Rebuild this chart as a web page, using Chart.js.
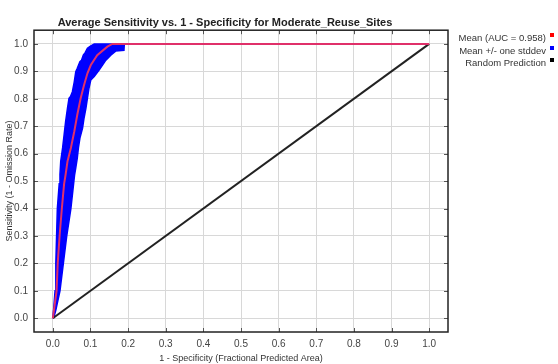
<!DOCTYPE html>
<html>
<head>
<meta charset="utf-8">
<script src="https://cdn.jsdelivr.net/npm/chart.js@4/dist/chart.umd.min.js"></script>
<style>
  html, body { margin: 0; padding: 0; background: #fff; }
  #wrap { position: relative; width: 558px; height: 364px; }
  #chart { position: absolute; left: 0; top: 0; }
  #legend { position: absolute; right: 4px; top: 32px; font: 9.5px "Liberation Sans", Arial, sans-serif; color: #333; text-align: right; }
  #legend div { height: 12.5px; line-height: 12.5px; white-space: nowrap; }
  #legend span.box { display: inline-block; width: 4px; height: 4px; margin-left: 4px; vertical-align: 4px; }
</style>
</head>
<body>
<div id="wrap">
  <canvas id="chart" width="558" height="364"></canvas>
  <div id="legend"></div>
</div>
<script>
// ROC curve values
var titleText = "Average Sensitivity vs. 1 - Specificity for Moderate_Reuse_Sites";
var xTitle = "1 - Specificity (Fractional Predicted Area)";
var yTitle = "Sensitivity (1 - Omission Rate)";
var tickValues = [0, 0.1, 0.2, 0.3, 0.4, 0.5, 0.6, 0.7, 0.8, 0.9, 1.0];
var legendLabels = ["Mean (AUC = 0.958)", "Mean +/- one stddev", "Random Prediction"];

// mean curve
var meanX = [0, 0.005, 0.010, 0.013, 0.018, 0.024, 0.030, 0.034, 0.039, 0.048, 0.057, 0.065, 0.074, 0.083, 0.092, 0.101, 0.118, 0.145, 0.158, 1.0];
var meanY = [0, 0.05, 0.10, 0.20, 0.30, 0.40, 0.49, 0.524, 0.572, 0.621, 0.681, 0.742, 0.802, 0.850, 0.893, 0.923, 0.959, 0.990, 1.0, 1.0];

// mean + one stddev (left edge of band)
var upperX = [0, 0.002, 0.006, 0.008, 0.010, 0.012, 0.017, 0.019, 0.021, 0.026, 0.030, 0.034, 0.039, 0.043, 0.047, 0.052, 0.057, 0.061, 0.065, 0.072, 0.076, 0.081, 0.086, 0.092, 0.100, 0.110];
var upperY = [0, 0.03, 0.10, 0.20, 0.30, 0.40, 0.49, 0.524, 0.572, 0.621, 0.669, 0.717, 0.766, 0.802, 0.808, 0.826, 0.862, 0.899, 0.911, 0.935, 0.940, 0.959, 0.968, 0.984, 0.992, 1.0];

// mean - one stddev (right edge of band)
var lowerX = [0.002, 0.008, 0.019, 0.028, 0.037, 0.048, 0.056, 0.058, 0.061, 0.065, 0.068, 0.072, 0.079, 0.083, 0.088, 0.092, 0.096, 0.101, 0.110, 0.123, 0.132, 0.141, 0.154, 0.167, 0.189, 0.190];
var lowerY = [0.0, 0.03, 0.10, 0.20, 0.30, 0.40, 0.50, 0.524, 0.548, 0.584, 0.621, 0.657, 0.693, 0.730, 0.766, 0.802, 0.838, 0.869, 0.881, 0.905, 0.923, 0.941, 0.959, 0.974, 0.977, 1.0];

// random prediction diagonal
var randX = [0, 1];
var randY = [0, 1];

var FONT = "'Liberation Sans', Arial, sans-serif";

function pts(xs, ys){
  var out = [];
  for (var i = 0; i < xs.length; i++) out.push({x: xs[i], y: ys[i]});
  return out;
}

// band outline: up the left edge, back down the right edge
var bandPts = pts(upperX, upperY).concat(pts(lowerX, lowerY).reverse());

// frame round the plot plus the little inward tick marks
var framePlugin = {
  id: "frame",
  afterDatasetsDraw: function(chart){
    var a = chart.chartArea, ctx = chart.ctx;
    var xs = chart.scales.x, ys = chart.scales.y;
    ctx.save();
    ctx.strokeStyle = "#555";
    ctx.lineWidth = 1;
    ctx.beginPath();
    tickValues.forEach(function(v){
      var px = Math.round(xs.getPixelForValue(v)) + .5;
      ctx.moveTo(px, a.top); ctx.lineTo(px, a.top + 4);
      ctx.moveTo(px, a.bottom); ctx.lineTo(px, a.bottom - 4);
      var py = Math.round(ys.getPixelForValue(v)) + .5;
      ctx.moveTo(a.left, py); ctx.lineTo(a.left + 4, py);
      ctx.moveTo(a.right, py); ctx.lineTo(a.right - 4, py);
    });
    ctx.stroke();
    ctx.strokeStyle = "#222";
    ctx.lineWidth = 1.5;
    ctx.strokeRect(a.left, a.top, a.right - a.left, a.bottom - a.top);
    ctx.restore();
  }
};

var chart = new Chart(document.getElementById("chart"), {
  type: "scatter",
  data: {
    datasets: [
      { label: legendLabels[0], data: pts(meanX, meanY), showLine: true, borderColor: "#e0306a", borderWidth: 2, pointRadius: 0, fill: false, tension: 0 },
      { label: legendLabels[2], data: pts(randX, randY), showLine: true, borderColor: "#222", borderWidth: 2, pointRadius: 0, fill: false },
      { label: legendLabels[1], data: bandPts, showLine: true, borderColor: "#0000ff", backgroundColor: "#0000ff", borderWidth: 1.5, pointRadius: 0, fill: "shape" }
    ]
  },
  options: {
    responsive: false,
    animation: false,
    layout: { padding: { left: 2, right: 110, top: 10, bottom: 0 } },
    plugins: {
      legend: { display: false },
      tooltip: { enabled: false },
      title: { display: true, text: titleText, color: "#222", font: { family: FONT, size: 11, weight: "bold" }, padding: { top: 6, bottom: 1 } }
    },
    scales: {
      x: {
        type: "linear", min: -0.05, max: 1.05,
        afterBuildTicks: function(s){ s.ticks = tickValues.map(function(v){ return {value: v}; }); },
        afterFit: function(s){ s.height = 32; },
        ticks: { color: "#444", font: { family: FONT, size: 10 }, padding: 6, maxRotation: 0, callback: function(v){ return v.toFixed(1); } },
        grid: { color: "#d8d8d8", drawTicks: false },
        border: { display: false },
        title: { display: true, text: xTitle, color: "#333", font: { family: FONT, size: 9 }, padding: 0 }
      },
      y: {
        type: "linear", min: -0.05, max: 1.05,
        afterBuildTicks: function(s){ s.ticks = tickValues.map(function(v){ return {value: v}; }); },
        afterFit: function(s){ s.width = 32; },
        ticks: { color: "#444", font: { family: FONT, size: 10 }, padding: 6, callback: function(v){ return v.toFixed(1); } },
        grid: { color: "#d8d8d8", drawTicks: false },
        border: { display: false },
        title: { display: true, text: yTitle, color: "#333", font: { family: FONT, size: 9 }, padding: 2 }
      }
    }
  },
  plugins: [framePlugin]
});

// legend: text then a small coloured square on the right
var legendColors = ["#ff0000", "#0000ff", "#000000"];
var lg = document.getElementById("legend");
legendLabels.forEach(function(t, i){
  var row = document.createElement("div");
  row.appendChild(document.createTextNode(t));
  var b = document.createElement("span");
  b.className = "box";
  b.style.background = legendColors[i];
  row.appendChild(b);
  lg.appendChild(row);
});
</script>
</body>
</html>
